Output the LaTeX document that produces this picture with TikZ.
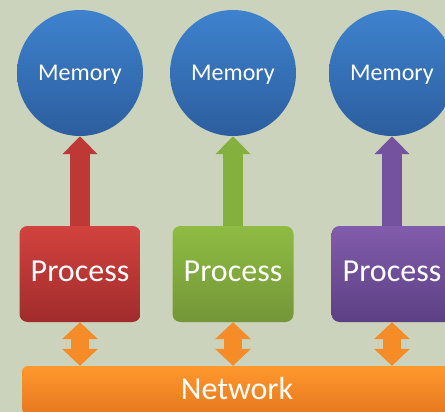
\documentclass[tikz,border=0pt]{standalone}
\usepackage{fontspec}
\setmainfont{Carlito}
\usetikzlibrary{arrows.meta}
\definecolor{bg}{RGB}{204,211,188}
\definecolor{memtop}{RGB}{62,130,206}
\definecolor{membot}{RGB}{44,94,158}
\definecolor{redtop}{RGB}{210,66,62}
\definecolor{redbot}{RGB}{160,44,44}
\definecolor{redarr}{RGB}{190,56,54}
\definecolor{gretop}{RGB}{142,188,66}
\definecolor{grebot}{RGB}{116,150,56}
\definecolor{grearr}{RGB}{132,176,62}
\definecolor{purtop}{RGB}{130,92,172}
\definecolor{purbot}{RGB}{92,64,132}
\definecolor{purarr}{RGB}{116,82,160}
\definecolor{orgtop}{RGB}{255,152,46}
\definecolor{orgbot}{RGB}{230,120,30}
\definecolor{orgarr}{RGB}{246,140,40}
\begin{document}
\begin{tikzpicture}[x=1pt,y=-1pt,
    mem/.style={circle,minimum size=126pt,inner sep=0pt,top color=memtop,bottom color=membot,
      text=white,font=\fontsize{24}{28}\selectfont,text depth=0pt},
    proc/.style={rounded corners=8pt,minimum width=121pt,minimum height=96pt,inner sep=0pt,
      text=white,font=\fontsize{32}{38}\selectfont,text depth=6pt},
    uparr/.style={line width=20pt,-{Triangle[width=34pt,length=18pt]}},
    bothway/.style={line width=18pt,orgarr,
      {Triangle[width=35pt,length=17pt]}-{Triangle[width=35pt,length=17pt]}}]
  \clip (0,0) rectangle (445,412);
  \fill[bg] (0,0) rectangle (445,412);
  % memories
  \node[mem] (mem1) at (80,73) {Memory};
  \node[mem] (mem2) at (233,73) {Memory};
  \node[mem] (mem3) at (392,73) {Memory};
  % processes
  \node[proc,top color=redtop,bottom color=redbot] (proc1) at (80,274) {Process};
  \node[proc,top color=gretop,bottom color=grebot] (proc2) at (233,274) {Process};
  \node[proc,top color=purtop,bottom color=purbot] (proc3) at (392,274) {Process};
  % network bar
  \node[rounded corners=6pt,minimum width=430pt,minimum height=48pt,inner sep=0pt,
    top color=orgtop,bottom color=orgbot,text=white,font=\fontsize{32}{38}\selectfont,
    text depth=4pt] (net) at (237,390) {Network};
  % arrows
  \draw[uparr,redarr] (proc1.north) -- (mem1.south);
  \draw[uparr,grearr] (proc2.north) -- (mem2.south);
  \draw[uparr,purarr] (proc3.north) -- (mem3.south);
  \foreach \i in {1,2,3}
    \draw[bothway] (proc\i.south) -- (proc\i.south |- net.north);
\end{tikzpicture}
\end{document}
